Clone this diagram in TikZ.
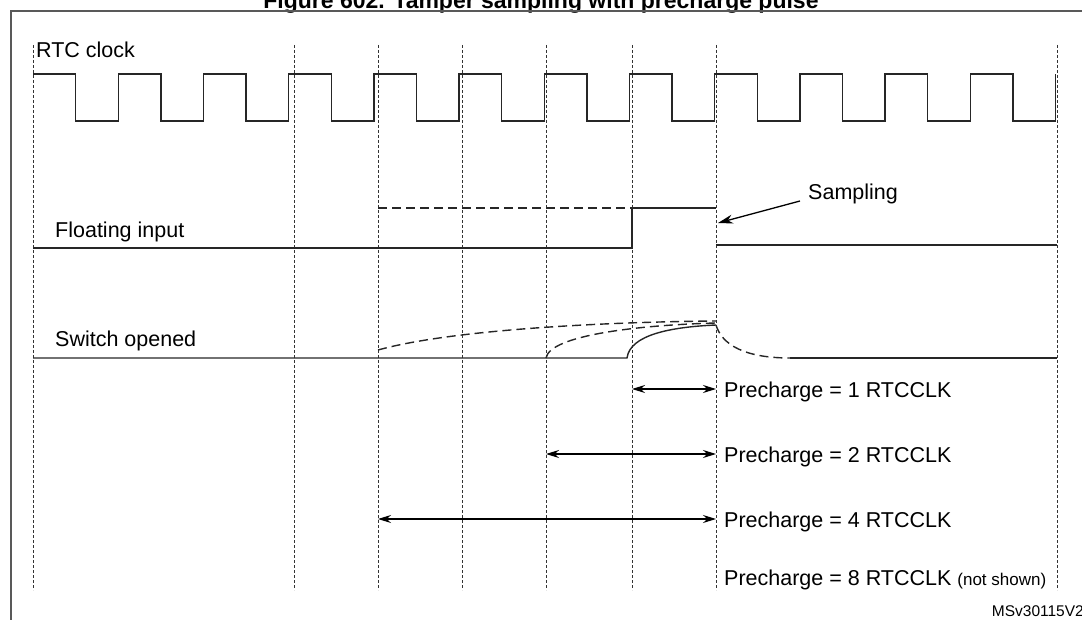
\documentclass[tikz,border=0pt]{standalone}
\usepackage{fontspec}
\setmainfont{Liberation Sans}
\usetikzlibrary{arrows.meta}
\begin{document}
\begin{tikzpicture}[x=1pt,y=-1pt,
  grid/.style={densely dashed,line width=0.6pt,black!80},
  sig/.style={line width=1.4pt,black!85},
  dsig/.style={line width=1.4pt,black!85,dash pattern=on 9pt off 5pt},
  lbl/.style={anchor=base west,inner sep=0pt,font=\fontsize{21.5}{24}\selectfont},
  dim/.style={line width=1.3pt,{Stealth[length=13pt,width=8pt]}-{Stealth[length=13pt,width=8pt]}},
  ]
\useasboundingbox (0,0) rectangle (1082,620);
\clip (0,0) rectangle (1082,620);
\node[anchor=base,inner sep=0pt,font=\bfseries\fontsize{23}{26}\selectfont] (title) at (541,9) {Figure 602. Tamper sampling with precharge pulse};
\draw[line width=1.6pt,black!65] (1083,11) -- (11,11) -- (11,621);
\foreach \x in {33,294,378,462,546,632,716,1057}
  \draw[grid] (\x,45) -- (\x,590);
\node[lbl] (rtc) at (36,58) {RTC clock};
\draw[sig] (33,74) \foreach \i in {0,...,11} {
  -- ({33+85.2*\i+42.6},74) -- ({33+85.2*\i+42.6},121) -- ({33+85.2*(\i+1)},121) -- ({33+85.2*(\i+1)},74)};
% floating input
\node[lbl] (fi) at (55,238) {Floating input};
\draw[sig] (33,248) -- (632,248) -- (632,208) -- (716,208);
\draw[dsig] (378,208) -- (632,208);
\draw[sig] (716,245) -- (1057,245);
\node[lbl] (samp) at (808,200) {Sampling};
\coordinate (sa) at (800,201);
\coordinate (sb) at (718,223);
\draw[line width=1.3pt,-{Stealth[length=15pt,width=9pt]}] (sa) -- (sb);
% switch opened
\node[lbl] (so) at (55,347) {Switch opened};
\draw[sig] (33,358) -- (627,358) .. controls (630,335) and (670,327) .. (716,325);
\draw[dsig] (378,350) .. controls (450,330) and (600,322) .. (716,321);
\draw[dsig] (546,358) .. controls (550,335) and (640,325) .. (716,323);
\draw[dsig] (716,325) .. controls (722,345) and (745,358) .. (790,358);
\draw[sig] (790,358) -- (1057,358);
% precharges
\node[lbl] (p1) at (724,397) {Precharge = 1 RTCCLK};
\node[lbl] (p2) at (724,462) {Precharge = 2 RTCCLK};
\node[lbl] (p4) at (724,527) {Precharge = 4 RTCCLK};
\node[lbl] (p8) at (724,585) {Precharge = 8 RTCCLK {\fontsize{17}{19}\selectfont (not shown)}};
\coordinate (a1) at (632,389); \coordinate (b1) at (716,389);
\coordinate (a2) at (546,454); \coordinate (b2) at (716,454);
\coordinate (a4) at (378,519); \coordinate (b4) at (716,519);
\draw[dim] (a1) -- (b1);
\draw[dim] (a2) -- (b2);
\draw[dim] (a4) -- (b4);
\node[anchor=base east,inner sep=0pt,font=\fontsize{15.5}{17}\selectfont] (ms) at (1084,616) {MSv30115V2};
\end{tikzpicture}
\end{document}
